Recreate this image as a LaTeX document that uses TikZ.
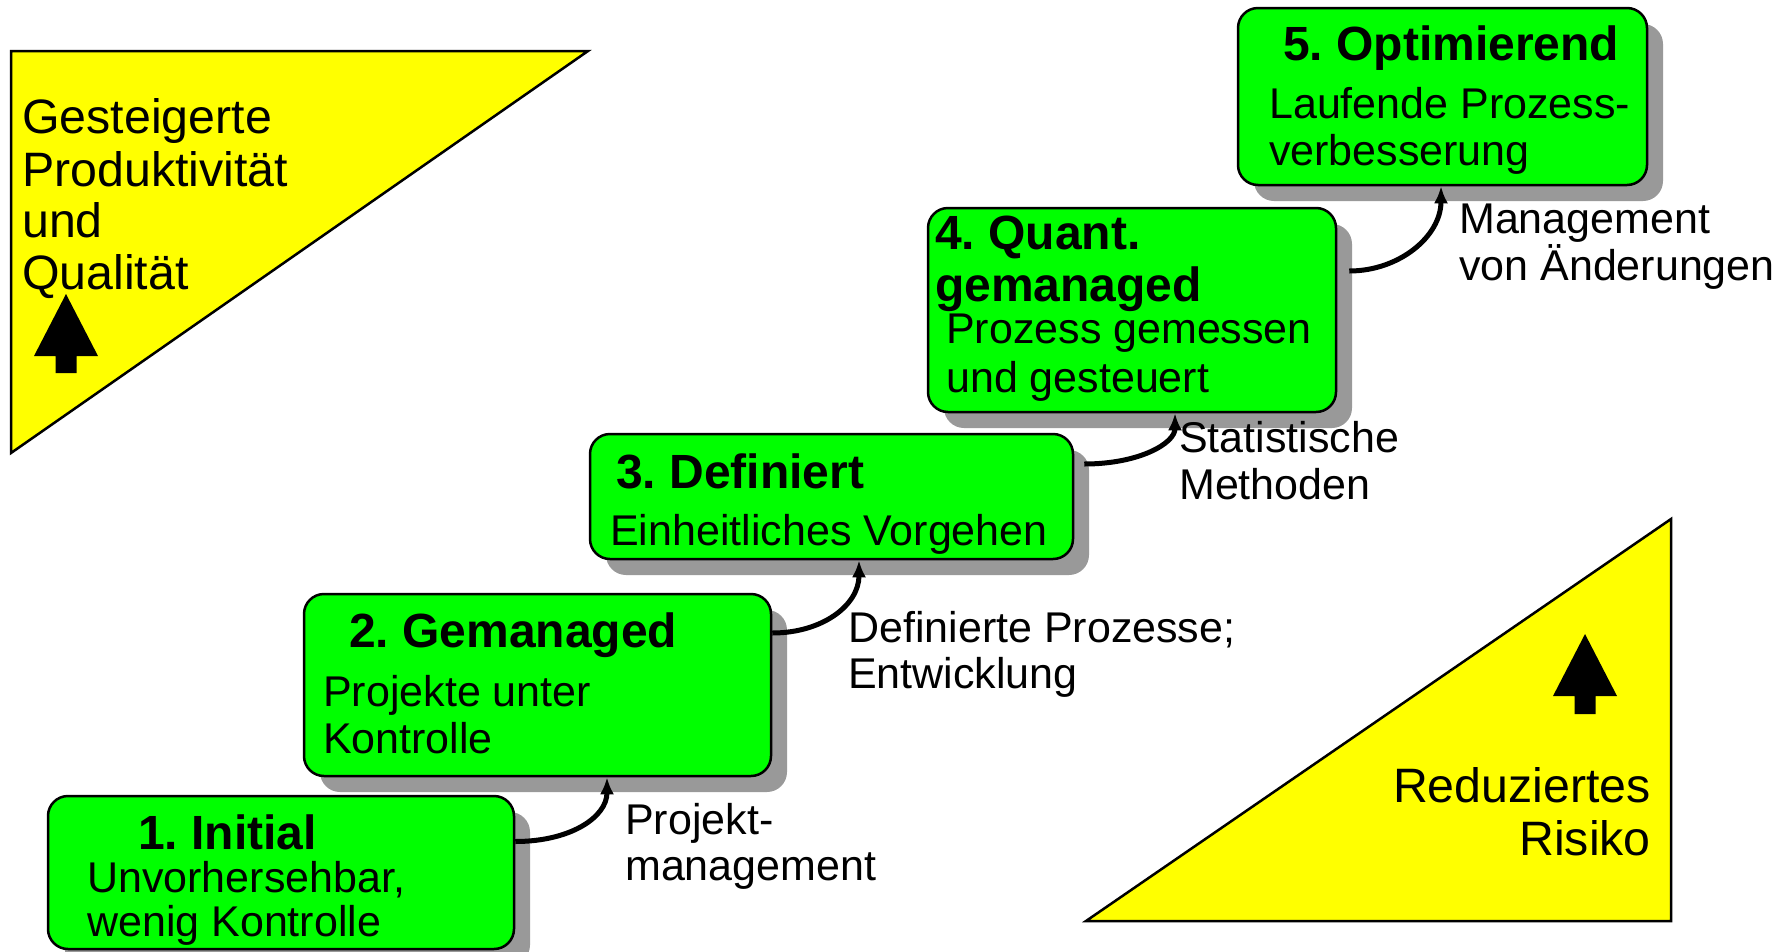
\documentclass[tikz,border=0pt]{standalone}
\usepackage{fontspec}
\setmainfont{Liberation Sans}
\usetikzlibrary{shadows,arrows.meta,calc}
\definecolor{stagegreen}{HTML}{00FF00}
\definecolor{wedgeyellow}{HTML}{FFFF00}
\definecolor{shadowgray}{HTML}{999999}
\frenchspacing
\begin{document}
\begin{tikzpicture}[x=1pt,y=-1pt,
  stagebox/.style={draw=black, line width=2.5pt, fill=stagegreen, rounded corners=20pt,
    inner sep=0pt,
    drop shadow={shadow xshift=16pt, shadow yshift=-16pt, fill=shadowgray, opacity=1}},
  title/.style={anchor=base west, inner sep=0pt, font=\fontsize{48}{54}\selectfont\bfseries},
  body/.style={anchor=base west, inner sep=0pt, font=\fontsize{43}{48}\selectfont},
  wedgetext/.style={inner sep=0pt, font=\fontsize{48.3}{54}\selectfont},
  wedge/.style={draw=black, line width=2.5pt, fill=wedgeyellow, line join=miter},
  stepline/.style={line width=5pt, -{Latex[length=17pt,width=14pt]}},
]
\useasboundingbox (0,0) rectangle (1788,951);

% yellow wedges
\draw[wedge] (11,51) -- (588,51) -- (11,453) -- cycle;
\draw[wedge] (1671,519) -- (1671,921) -- (1086,921) -- cycle;

% block arrows inside the wedges
\fill[black] (66,294) -- (98,356) -- (76.5,356) -- (76.5,373) -- (55.5,373)
  -- (55.5,356) -- (34,356) -- cycle;
\fill[black] (1585,634) -- (1617,696) -- (1595.5,696) -- (1595.5,714) -- (1574.5,714)
  -- (1574.5,696) -- (1553,696) -- cycle;

% wedge texts
\node[wedgetext, anchor=base west] (g1) at (22,133) {Gesteigerte};
\node[wedgetext, anchor=base west] (g2) at (22,186) {Produktivität};
\node[wedgetext, anchor=base west] (g3) at (22,237) {und};
\node[wedgetext, anchor=base west] (g4) at (22,289) {Qualität};
\node[wedgetext, anchor=base east] (r1) at (1651,802) {Reduziertes};
\node[wedgetext, anchor=base east] (r2) at (1651,855) {Risiko};

% maturity stages
\node[stagebox, minimum width=466pt, minimum height=153pt] (s1) at (281,872.5) {};
\node[stagebox, minimum width=467pt, minimum height=182pt] (s2) at (537.5,685) {};
\node[stagebox, minimum width=483pt, minimum height=125pt] (s3) at (831.5,496.5) {};
\node[stagebox, minimum width=408pt, minimum height=204pt] (s4) at (1132,310) {};
\node[stagebox, minimum width=409pt, minimum height=177pt] (s5) at (1442.5,96.5) {};

% stage texts
\node[title] (t1) at (138,849) {1. Initial};
\node[body] (b1a) at (87,892) {Unvorhersehbar,};
\node[body] (b1b) at (87,936) {wenig Kontrolle};

\node[title] (t2) at (349,647) {2. Gemanaged};
\node[body] (b2a) at (323,706) {Projekte unter};
\node[body] (b2b) at (323,753) {Kontrolle};

\node[title] (t3) at (616,488) {3. Definiert};
\node[body] (b3a) at (610,545) {Einheitliches Vorgehen};

\node[title] (t4a) at (935,249) {4. Quant.};
\node[title] (t4b) at (935,301) {gemanaged};
\node[body] (b4a) at (946,343) {Prozess gemessen};
\node[body] (b4b) at (946,392) {und gesteuert};

\node[title] (t5) at (1283,60) {5. Optimierend};
\node[body] (b5a) at (1269,118) {Laufende Prozess-};
\node[body] (b5b) at (1269,165) {verbesserung};

% transition labels
\node[body] (l1a) at (625,834) {Projekt-};
\node[body] (l1b) at (625,880) {management};
\node[body] (l2a) at (848,642) {Definierte Prozesse;};
\node[body] (l2b) at (848,688) {Entwicklung};
\node[body] (l3a) at (1179,452) {Statistische};
\node[body] (l3b) at (1179,499) {Methoden};
\node[body] (l4a) at (1459,233) {Management};
\node[body] (l4b) at (1459,280) {von Änderungen};

% transitions between stages
\draw[stepline] ($(s1.east)+(0,-31)$) .. controls +(55,0) and +(0,40) .. ($(s2.south)+(69.5,0)$);
\draw[stepline] ($(s2.east)+(0,-52)$) .. controls +(50,0) and +(0,45) .. ($(s3.south)+(27.5,0)$);
\draw[stepline] ($(s3.east)+(10,-32.5)$) .. controls +(55,0) and +(0,30) .. ($(s4.south)+(43,0)$);
\draw[stepline] ($(s4.east)+(12,-39)$) .. controls +(50,0) and +(0,50) .. ($(s5.south)+(-1.5,0)$);
\end{tikzpicture}
\end{document}
